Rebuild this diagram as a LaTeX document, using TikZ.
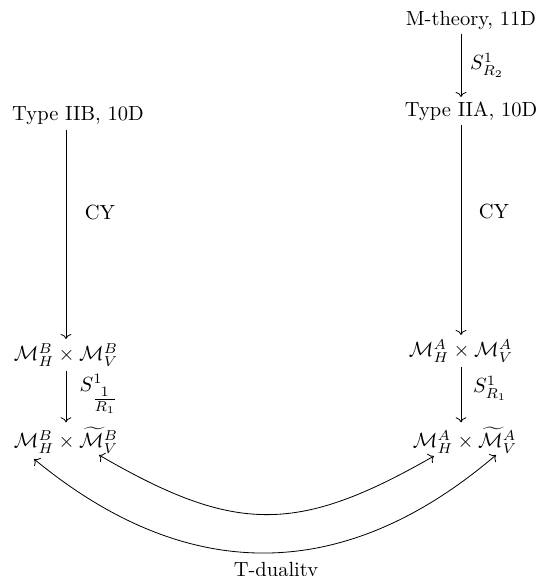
\documentclass[tikz,border=0pt]{standalone}
\usepackage{amsmath,amssymb}
\usetikzlibrary{arrows.meta,calc}

\begin{document}
\begin{tikzpicture}[
  x=0.4878pt, y=0.4878pt,
  every node/.style={inner sep=2pt},
  arr/.style={-{To}},
  dual/.style={{To}-{To}},
]
\useasboundingbox (0,0) rectangle (539,-576);
\node (mth) at (471,-20) {M-theory, 11D};
\node (iia) at (471,-111) {Type IIA, 10D};
\node (iib) at (78,-116) {Type IIB, 10D};
\node (mhva) at (461,-351) {$\mathcal{M}_H^A \times \mathcal{M}_V^A$};
\node (mhvb) at (66,-355) {$\mathcal{M}_H^B \times \mathcal{M}_V^B$};
\node (tva) at (465,-440) {$\mathcal{M}_H^A \times \widetilde{\mathcal{M}}_V^A$};
\node (tvb) at (66,-440) {$\mathcal{M}_H^B \times \widetilde{\mathcal{M}}_V^B$};
\node (sr2) at (487,-65) {$S^1_{R_2}$};
\node (cyb) at (100,-212) {CY};
\node (cya) at (494,-211) {CY};
\node (sinv) at (99,-394) {$S^1_{\tfrac{1}{R_1}}$};
\node (sr1) at (490,-388) {$S^1_{R_1}$};
\node[anchor=base] (tdual) at (276,-576) {T-duality};

\draw[arr] (mth.south -| mhva) -- (iia.north -| mhva);
\draw[arr] (iia.south -| mhva) -- (mhva);
\draw[arr] (iib.south -| mhvb) -- (mhvb);
\draw[arr] (mhva) -- (mhva |- tva.north);
\draw[arr] (mhvb) -- (tvb);
\draw[dual] ($(tvb)+(33,-15)$) to[bend right=30, looseness=1.2] ($(tva)+(-31,-16)$);
\draw[dual] ($(tvb)+(-32,-19)$) to[bend right=40, looseness=1.1] ($(tva)+(31,-15)$);
\end{tikzpicture}
\end{document}
